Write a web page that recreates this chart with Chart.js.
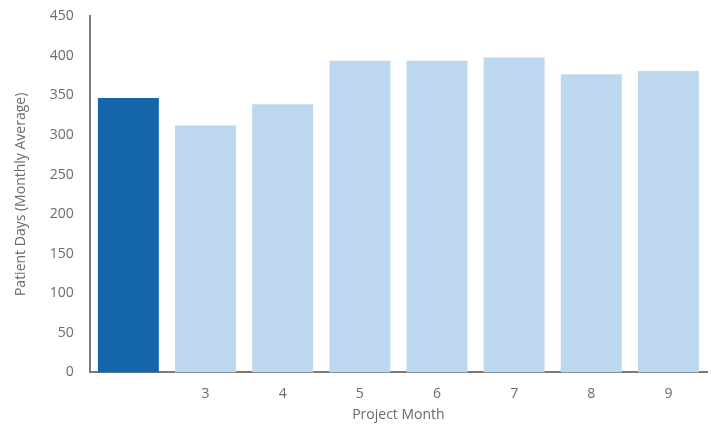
<!DOCTYPE html>
<html>
<head>
<meta charset="utf-8">
<script src="https://cdn.jsdelivr.net/npm/chart.js@4"></script>
<style>
  html, body { margin: 0; padding: 0; background: #fff; }
  #chart { display: block; }
</style>
</head>
<body>
<canvas id="chart" width="711" height="424"></canvas>
<script>
// Chart data
const months = ["", "3", "4", "5", "6", "7", "8", "9"];
const patientDays = [347, 312, 339, 394, 394, 398, 377, 381];
const barColors = ["#1467ab", "#bdd8ee", "#bdd8ee", "#bdd8ee", "#bdd8ee", "#bdd8ee", "#bdd8ee", "#bdd8ee"];

const textColor = "#6b6b6b";
const axisColor = "#7a7a7a";
const font = { family: "'Open Sans', 'Noto Sans', sans-serif", size: 14 };

const ctx = document.getElementById("chart").getContext("2d");
new Chart(ctx, {
  type: "bar",
  data: {
    labels: months,
    datasets: [
      {
        label: "Patient Days",
        data: patientDays,
        backgroundColor: barColors,
        barPercentage: 0.79,
        categoryPercentage: 1,
      },
    ],
  },
  options: {
    responsive: false,
    animation: false,
    layout: { padding: { top: 5, right: 4, left: 13, bottom: 1 } },
    plugins: {
      legend: { display: false },
      tooltip: { enabled: false },
    },
    scales: {
      x: {
        grid: { display: false },
        border: { display: true, color: axisColor, width: 2 },
        ticks: { color: textColor, font: font, padding: 5 },
        title: {
          display: true,
          text: "Project Month",
          color: textColor,
          font: font,
          padding: { top: -1, bottom: 0 },
        },
      },
      y: {
        min: 0,
        max: 450,
        grid: { display: false },
        border: { display: true, color: axisColor, width: 2 },
        ticks: { stepSize: 50, color: textColor, font: font, padding: 8 },
        title: {
          display: true,
          text: "Patient Days (Monthly Average)",
          color: textColor,
          font: font,
          padding: { top: 0, bottom: 12 },
        },
      },
    },
  },
});
</script>
</body>
</html>
